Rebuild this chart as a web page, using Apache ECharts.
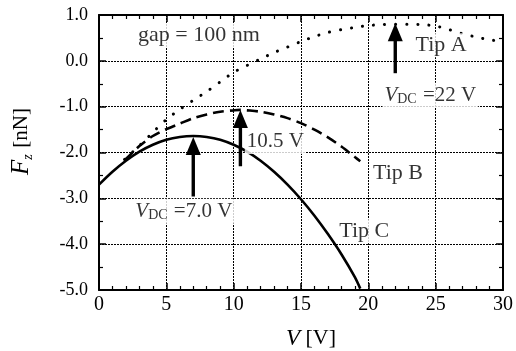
<!DOCTYPE html>
<html>
<head>
<meta charset="utf-8">
<script src="https://cdn.jsdelivr.net/npm/echarts@6/dist/echarts.min.js"></script>
<style>html,body{margin:0;padding:0;background:#fff}#c{width:516px;height:351px}</style>
</head>
<body>
<div id="c"></div>
<script>
// ---- data ----
var tipA_V = [1.9, 3, 4, 5, 6, 7, 8, 9, 10, 11, 12, 13, 14, 15, 16, 17, 18, 19, 20, 21, 22, 23, 24, 25, 26, 27, 28, 29, 30];
var tipA_F = [-2.15, -1.85, -1.56, -1.28, -1.06, -0.86, -0.67, -0.46, -0.25, -0.10, 0.04, 0.18, 0.30, 0.42, 0.53, 0.62, 0.68, 0.73, 0.77, 0.79, 0.80, 0.80, 0.79, 0.76, 0.68, 0.59, 0.52, 0.46, 0.42];
var tipB_V = [1.9, 3, 4, 5, 6, 7, 8, 9, 10, 10.5, 11, 12, 13, 14, 15, 16, 17, 18, 19, 19.4];
var tipB_F = [-2.17, -1.86, -1.64, -1.49, -1.37, -1.25, -1.17, -1.11, -1.08, -1.07, -1.08, -1.11, -1.17, -1.25, -1.36, -1.50, -1.67, -1.87, -2.10, -2.19];
var tipC_V = [0, 1, 2, 3, 4, 5, 6, 7, 8, 9, 10, 11, 12, 13, 14, 15, 16, 17, 18, 19, 19.4];
var tipC_F = [-2.70, -2.42, -2.18, -1.98, -1.83, -1.72, -1.66, -1.64, -1.66, -1.72, -1.83, -1.98, -2.18, -2.42, -2.70, -3.02, -3.38, -3.78, -4.22, -4.72, -4.97];
var arrowV = [22, 10.5, 7.0];
var arrowTip = [0.82, -1.07, -1.66];
var arrowBase = [-0.27, -2.30, -2.96];
var annoText = ['gap = 100 nm', 'Tip A', '{i|V}{sub|DC}{n| =22 V}', '{n|10.5 V}', 'Tip B', 'Tip C', '{i|V}{sub|DC}{n| =7.0 V}'];
var annoV = [7.42, 25.4, 24.6, 13.1, 22.2, 19.7, 6.3];
var annoF = [0.56, 0.34, -0.75, -1.76, -2.46, -3.72, -3.28];
var xTicks = {min: 0, max: 30, interval: 5};
var yTicks = {min: -5, max: 1, interval: 1};

function pairs(a, b) { return a.map(function (v, i) { return [v, b[i]]; }); }

var FONT = 'Liberation Serif';
var chart = echarts.init(document.getElementById('c'));

var richStyles = {
  i: {fontFamily: FONT, fontStyle: 'italic', fontSize: 21, color: '#000', lineHeight: 23},
  sub: {fontFamily: FONT, fontSize: 14, color: '#000', verticalAlign: 'bottom', lineHeight: 13, padding: [0, 1, 0, 0]},
  n: {fontFamily: FONT, fontSize: 21, color: '#000', lineHeight: 23}
};

var gridLine = {show: true, lineStyle: {color: '#000', width: 1, type: [2, 1]}};
function xAxisCfg(pos, main) {
  return {
    type: 'value', position: pos, min: xTicks.min, max: xTicks.max, interval: xTicks.interval,
    axisLine: {show: true, onZero: false, lineStyle: {color: '#000', width: 2}},
    axisTick: {show: true, inside: true, length: 7, lineStyle: {color: '#000', width: 1.5}},
    minorTick: {show: true, splitNumber: 5, length: 4, lineStyle: {color: '#000', width: 1.2}},
    axisLabel: {show: main, fontFamily: FONT, fontSize: 20, color: '#000', margin: 5},
    splitLine: main ? gridLine : {show: false},
    name: main ? '{i|V} [V]' : '', nameLocation: 'middle', nameGap: 37,
    nameTextStyle: {fontFamily: FONT, fontSize: 22, color: '#000', padding: [0, 0, 0, 20],
      rich: {i: {fontFamily: FONT, fontStyle: 'italic', fontSize: 23, color: '#000'}}}
  };
}
function yAxisCfg(pos, main) {
  return {
    type: 'value', position: pos, min: yTicks.min, max: yTicks.max, interval: yTicks.interval,
    axisLine: {show: true, onZero: false, lineStyle: {color: '#000', width: 2}},
    axisTick: {show: true, inside: true, length: 7, lineStyle: {color: '#000', width: 1.5}},
    minorTick: {show: true, splitNumber: 2, length: 4, lineStyle: {color: '#000', width: 1.2}},
    axisLabel: {show: main, fontFamily: FONT, fontSize: 18, color: '#000', margin: 11,
      formatter: function (v) { return v.toFixed(1); }},
    splitLine: main ? gridLine : {show: false},
    name: main ? '{f|F}{z|z}  {n|[nN]}' : '', nameLocation: 'middle', nameGap: 64, nameRotate: 90,
    nameTextStyle: {padding: [0, 0, 0, 22], rich: {
      f: {fontFamily: FONT, fontStyle: 'italic', fontSize: 25, color: '#000', lineHeight: 27},
      z: {fontFamily: FONT, fontStyle: 'italic', fontSize: 14, color: '#000', verticalAlign: 'bottom', lineHeight: 14},
      n: {fontFamily: FONT, fontSize: 21, color: '#000', lineHeight: 27}
    }}
  };
}

chart.setOption({
  animation: false,
  backgroundColor: '#fff',
  grid: {left: 99, right: 13, top: 15, bottom: 61, containLabel: false, outerBoundsMode: 'none'},
  xAxis: [xAxisCfg('bottom', true), xAxisCfg('top', false)],
  yAxis: [yAxisCfg('left', true), yAxisCfg('right', false)],
  series: [
    {type: 'line', name: 'Tip A', data: pairs(tipA_V, tipA_F), showSymbol: false, smooth: 0.3, z: 3,
      lineStyle: {color: '#000', width: 3, type: [0.1, 11], cap: 'round'}},
    {type: 'line', name: 'Tip B', data: pairs(tipB_V, tipB_F), showSymbol: false, smooth: 0.3, z: 3,
      lineStyle: {color: '#000', width: 2.6, type: [11, 6]}},
    {type: 'line', name: 'Tip C', data: pairs(tipC_V, tipC_F), showSymbol: false, smooth: 0.3, z: 3,
      lineStyle: {color: '#000', width: 2.6}},
    {type: 'custom', name: 'arrows', z: 4,
      data: arrowV.map(function (v, i) { return [v, arrowTip[i], arrowBase[i]]; }),
      renderItem: function (params, api) {
        var tip = api.coord([api.value(0), api.value(1)]);
        var base = api.coord([api.value(0), api.value(2)]);
        var hw = 7.5, hh = 18;
        return {type: 'group', children: [
          {type: 'line', shape: {x1: base[0], y1: base[1], x2: tip[0], y2: tip[1] + hh - 1},
            style: {stroke: '#000', lineWidth: 3.4}},
          {type: 'polygon', shape: {points: [[tip[0], tip[1]], [tip[0] - hw, tip[1] + hh], [tip[0] + hw, tip[1] + hh]]},
            style: {fill: '#000'}}
        ]};
      }},
    {type: 'scatter', name: 'annotations', z: 5, symbolSize: 0, silent: true,
      data: annoV.map(function (v, i) { return {value: [v, annoF[i]], name: annoText[i]}; }),
      label: {show: true, position: 'inside', color: '#000', fontFamily: FONT, fontSize: 22,
        backgroundColor: '#fff', padding: [1, 2],
        formatter: function (p) { return p.name; },
        rich: richStyles}}
  ]
});
</script>
</body>
</html>
